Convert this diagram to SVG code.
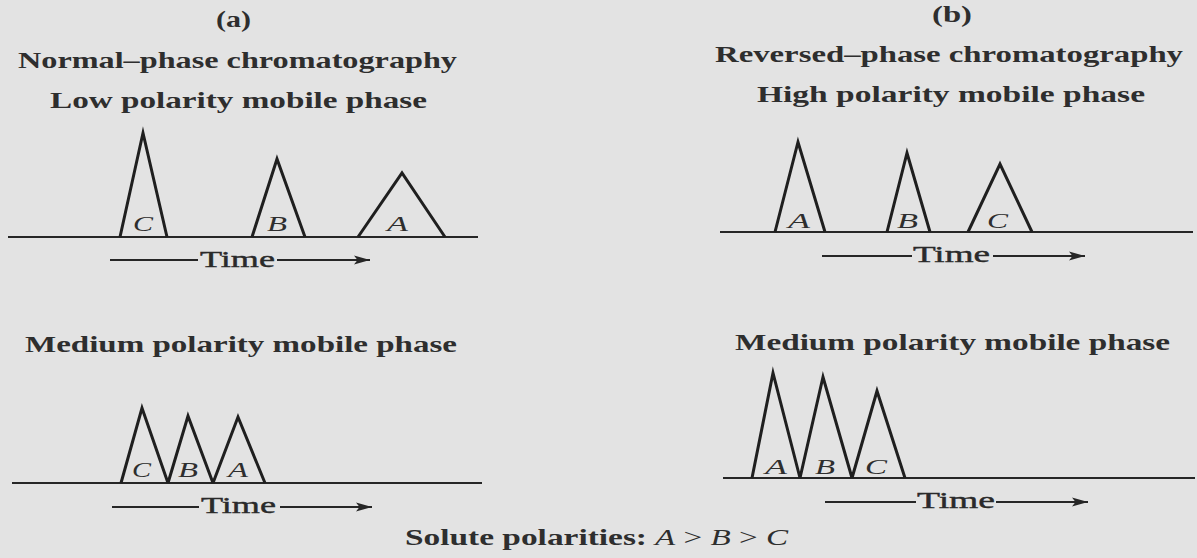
<svg xmlns="http://www.w3.org/2000/svg" width="1197" height="558" viewBox="0 0 1197 558">
<defs>
<style>
.bg{fill:#e3e3e3}
.t{font-family:"Liberation Serif","Times New Roman",serif;font-weight:bold;font-size:24px;fill:#2e2e2e}
.lab{font-family:"Liberation Serif","Times New Roman",serif;font-style:italic;font-size:21px;fill:#2e2e2e}
.tm{font-family:"Liberation Serif","Times New Roman",serif;font-size:23px;fill:#2a2a2a;stroke:#2a2a2a;stroke-width:0.4}
.base{stroke:#262626;stroke-width:2;fill:none}
.peak{stroke:#1f1f1f;stroke-width:3;fill:none;stroke-linejoin:miter;stroke-miterlimit:20}
.arr{stroke:#262626;stroke-width:1.8;fill:none}
</style>
<marker id="ah" markerUnits="userSpaceOnUse" markerWidth="18" markerHeight="12" refX="16" refY="6" orient="auto">
<path d="M0,1.5 L16,6 L0,10.5 L3.5,6 Z" fill="#262626"/>
</marker>
</defs>
<rect class="bg" x="0" y="0" width="1197" height="558"/>

<g id="panel-a-titles">
<text class="t" x="216" y="27" textLength="35" lengthAdjust="spacingAndGlyphs">(a)</text>
<text class="t" x="18" y="68" textLength="439" lengthAdjust="spacingAndGlyphs">Normal–phase chromatography</text>
<text class="t" x="50" y="108" textLength="377" lengthAdjust="spacingAndGlyphs">Low polarity mobile phase</text>
<text class="t" x="25" y="352" textLength="432" lengthAdjust="spacingAndGlyphs">Medium polarity mobile phase</text>
</g>

<g id="panel-b-titles">
<text class="t" x="932" y="22" textLength="40" lengthAdjust="spacingAndGlyphs">(b)</text>
<text class="t" x="715" y="62" textLength="468" lengthAdjust="spacingAndGlyphs">Reversed–phase chromatography</text>
<text class="t" x="757" y="102" textLength="388" lengthAdjust="spacingAndGlyphs">High polarity mobile phase</text>
<text class="t" x="735" y="350" textLength="435" lengthAdjust="spacingAndGlyphs">Medium polarity mobile phase</text>
</g>

<g id="chrom-a-low">
<line class="base" x1="8" y1="237" x2="478" y2="237"/>
<path class="peak" d="M120,237 L143,133 L167,237"/>
<path class="peak" d="M252,237 L277,159 L305,237"/>
<path class="peak" d="M358,237 L402,173 L445,237"/>
<text class="lab" x="133" y="231" textLength="20" lengthAdjust="spacingAndGlyphs">C</text>
<text class="lab" x="267" y="231" textLength="20" lengthAdjust="spacingAndGlyphs">B</text>
<text class="lab" x="387" y="231" textLength="21" lengthAdjust="spacingAndGlyphs">A</text>
</g>

<g id="chrom-a-medium">
<line class="base" x1="12" y1="483" x2="482" y2="483"/>
<path class="peak" d="M121,483 L142,408 L168,483 M168,483 L188,416 L213,483 M213,483 L238,417 L265,483"/>
<text class="lab" x="132" y="477" textLength="19" lengthAdjust="spacingAndGlyphs">C</text>
<text class="lab" x="178" y="477" textLength="20" lengthAdjust="spacingAndGlyphs">B</text>
<text class="lab" x="228" y="477" textLength="20" lengthAdjust="spacingAndGlyphs">A</text>
</g>

<g id="chrom-b-high">
<line class="base" x1="720" y1="232" x2="1193" y2="232"/>
<path class="peak" d="M775,232 L798,142 L825,232"/>
<path class="peak" d="M887,232 L907,153 L930,232"/>
<path class="peak" d="M968,232 L1000,164 L1032,232"/>
<text class="lab" x="788" y="228" textLength="22" lengthAdjust="spacingAndGlyphs">A</text>
<text class="lab" x="897" y="228" textLength="21" lengthAdjust="spacingAndGlyphs">B</text>
<text class="lab" x="987" y="228" textLength="21" lengthAdjust="spacingAndGlyphs">C</text>
</g>

<g id="chrom-b-medium">
<line class="base" x1="723" y1="478" x2="1195" y2="478"/>
<path class="peak" d="M752,478 L773,373 L800,478 M800,478 L823,377 L852,478 M852,478 L877,391 L905,478"/>
<text class="lab" x="765" y="474" textLength="22" lengthAdjust="spacingAndGlyphs">A</text>
<text class="lab" x="815" y="474" textLength="20" lengthAdjust="spacingAndGlyphs">B</text>
<text class="lab" x="865" y="474" textLength="22" lengthAdjust="spacingAndGlyphs">C</text>
</g>

<g id="connectors">
<line class="arr" x1="110" y1="260" x2="198" y2="260"/>
<line class="arr" x1="277" y1="260" x2="370" y2="260" marker-end="url(#ah)"/>
<line class="arr" x1="112" y1="507" x2="199" y2="507"/>
<line class="arr" x1="280" y1="507" x2="372" y2="507" marker-end="url(#ah)"/>
<line class="arr" x1="822" y1="256" x2="912" y2="256"/>
<line class="arr" x1="993" y1="256" x2="1085" y2="256" marker-end="url(#ah)"/>
<line class="arr" x1="825" y1="502" x2="916" y2="502"/>
<line class="arr" x1="996" y1="502" x2="1088" y2="502" marker-end="url(#ah)"/>
</g>

<g id="time-labels">
<text class="tm" x="200" y="267" textLength="75" lengthAdjust="spacingAndGlyphs">Time</text>
<text class="tm" x="201" y="513" textLength="75" lengthAdjust="spacingAndGlyphs">Time</text>
<text class="tm" x="913" y="262" textLength="77" lengthAdjust="spacingAndGlyphs">Time</text>
<text class="tm" x="917" y="508" textLength="78" lengthAdjust="spacingAndGlyphs">Time</text>
</g>

<g id="footer">
<text class="t" x="405" y="545" textLength="242" lengthAdjust="spacingAndGlyphs">Solute polarities:</text>
<text x="655" y="545" style="font-family:'Liberation Serif','Times New Roman',serif;font-size:24px;fill:#2e2e2e" textLength="133" lengthAdjust="spacingAndGlyphs"><tspan font-style="italic">A</tspan> &gt; <tspan font-style="italic">B</tspan> &gt; <tspan font-style="italic">C</tspan></text>
</g>
</svg>
